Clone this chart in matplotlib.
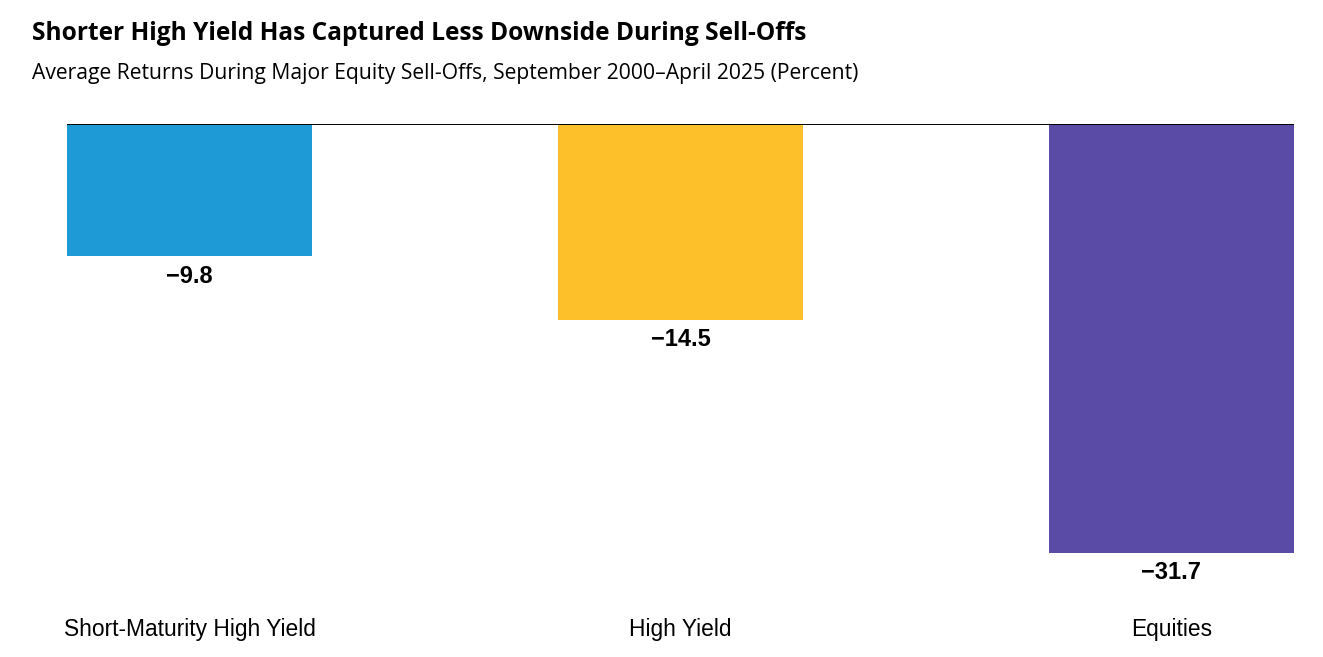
import matplotlib
matplotlib.use("Agg")
import matplotlib.pyplot as plt

# Average returns during major equity sell-offs, Sep 2000 - Apr 2025 (percent)
categories = ["Short-Maturity High Yield", "High Yield", "Equities"]
returns = [-9.8, -14.5, -31.7]
value_labels = ["\u22129.8", "\u221214.5", "\u221231.7"]
colors = ["#1E9BD7", "#FEC02A", "#5A4BA6"]

title = "Shorter High Yield Has Captured Less Downside During Sell-Offs"
subtitle = "Average Returns During Major Equity Sell-Offs, September 2000\u2013April 2025 (Percent)"

fig = plt.figure(figsize=(13.23, 6.57), dpi=100)
ax = fig.add_axes([0.0506, 0.0868, 0.9275, 0.7245])

x = list(range(len(categories)))
ax.bar(x, returns, width=0.5, color=colors, zorder=2)

for xi, v, lab in zip(x, returns, value_labels):
    ax.annotate(lab, (xi, v), xytext=(0, -6), textcoords="offset points",
                ha="center", va="top", fontsize=17, fontweight="bold",
                family="Liberation Sans", color="black")

ax.axhline(0, color="black", lw=1.4, zorder=3)
ax.set_xlim(-0.25, 2.25)
ax.set_ylim(-35.2, 0)
ax.set_xticks(x)
ax.set_xticklabels(categories, family="Liberation Sans", fontsize=16.4)
ax.tick_params(axis="x", length=0, pad=13)
ax.set_yticks([])
for s in ax.spines.values():
    s.set_visible(False)

fig.text(0.024, 0.949, title, fontsize=17.65, fontweight="bold",
         family="Open Sans", va="center", ha="left")
fig.text(0.024, 0.888, subtitle, fontsize=15.2, family="Open Sans",
         va="center", ha="left")

fig.savefig("out.png", dpi=100)
